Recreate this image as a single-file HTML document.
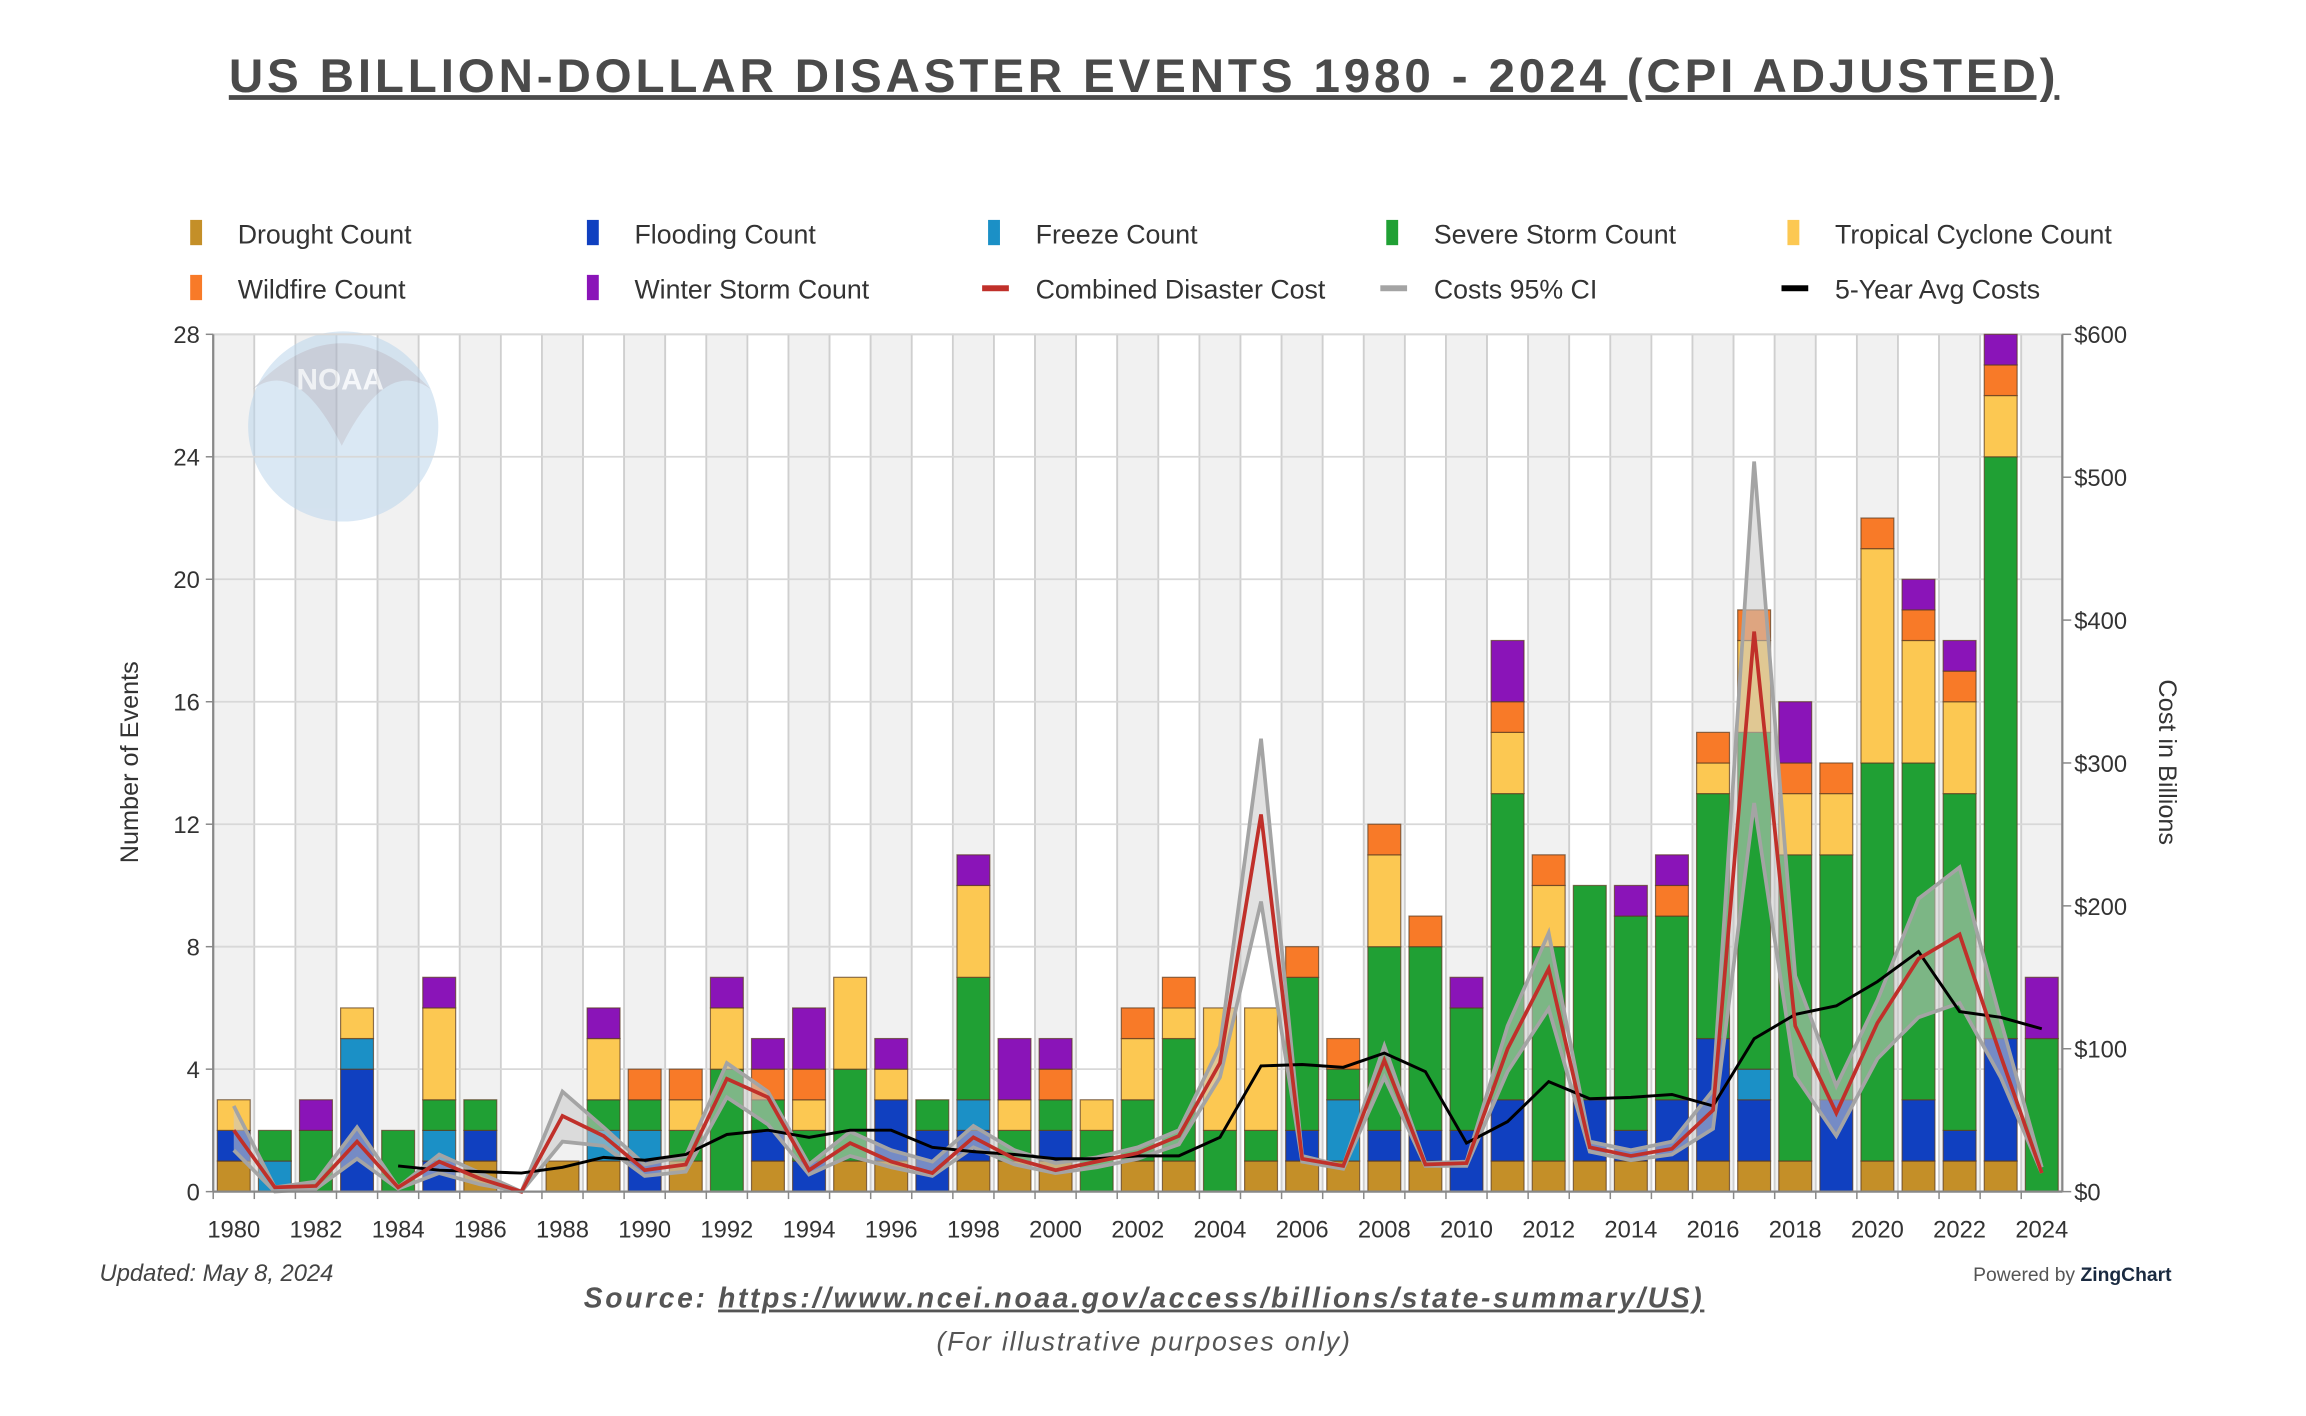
<!DOCTYPE html>
<html><head><meta charset="utf-8"><style>
html,body{margin:0;padding:0;background:#fff;}
svg{display:block;font-family:"Liberation Sans","DejaVu Sans",sans-serif;}
</style></head><body>
<svg id="chart" width="2306" height="1416" viewBox="0 0 1552 953" xmlns="http://www.w3.org/2000/svg">
<text x="770" y="62" text-anchor="middle" font-size="32" font-weight="bold" fill="#4a4a4a" letter-spacing="2.6" text-decoration="underline">US BILLION-DOLLAR DISASTER EVENTS 1980 - 2024 (CPI ADJUSTED)</text>
<g id="legend"></g>
<g id="bands"></g>
<g opacity="0.55">
<circle cx="231" cy="287" r="64" fill="#bcd6ec"/>
<path d="M170 262 Q230 200 290 262 Q260 240 230 300 Q200 240 170 262 Z" fill="#a9b3c6"/>
<text x="229" y="262" text-anchor="middle" font-size="20" font-weight="bold" fill="#eef2f7">NOAA</text>
</g>
<g id="grid"></g>
<g id="bars"></g>
<g id="lines"></g>
<g id="axes"></g>
<text transform="translate(93,513) rotate(-90)" text-anchor="middle" font-size="17" fill="#333">Number of Events</text>
<text transform="translate(1453,513) rotate(90)" text-anchor="middle" font-size="17" fill="#333">Cost in Billions</text>
<text x="67" y="862" font-size="16" font-style="italic" fill="#444">Updated: May 8, 2024</text>
<text x="1328" y="862" font-size="13" fill="#555">Powered by <tspan font-weight="bold" fill="#1a2a40">ZingChart</tspan></text>
<text x="770" y="880" text-anchor="middle" font-size="19" font-style="italic" font-weight="bold" fill="#555" letter-spacing="1.8">Source: <tspan text-decoration="underline">https://www.ncei.noaa.gov/access/billions/state-summary/US)</tspan></text>
<text x="770" y="909" text-anchor="middle" font-size="18" font-style="italic" fill="#555" letter-spacing="1.2">(For illustrative purposes only)</text>
</svg>
<script>
const years=[];for(let y=1980;y<=2024;y++)years.push(y);
const drought=[1,0,0,0,0,0,1,0,1,1,0,1,0,1,0,1,1,0,1,1,1,0,1,1,0,1,1,1,1,1,0,1,1,1,1,1,1,1,1,0,1,1,1,1,0];
const flooding=[1,0,0,4,0,1,1,0,0,0,1,0,0,1,1,0,2,2,1,0,1,0,0,0,0,0,1,0,1,1,2,2,0,2,1,2,4,2,0,3,0,2,1,4,0];
const freeze=[0,1,0,1,0,1,0,0,0,1,1,0,0,0,0,0,0,0,1,0,0,0,0,0,0,0,0,2,0,0,0,0,0,0,0,0,0,1,0,0,0,0,0,0,0];
const storm=[0,1,2,0,2,1,1,0,0,1,1,1,4,1,1,3,0,1,4,1,1,2,2,4,2,1,5,1,6,6,4,10,7,7,7,6,8,11,10,8,13,11,11,19,5];
const tropical=[1,0,0,1,0,3,0,0,0,2,0,1,2,0,1,3,1,0,3,1,0,1,2,1,4,4,0,0,3,0,0,2,2,0,0,0,1,3,2,2,7,4,3,2,0];
const wildfire=[0,0,0,0,0,0,0,0,0,0,1,1,0,1,1,0,0,0,0,0,1,0,1,1,0,0,1,1,1,1,0,1,1,0,0,1,1,1,1,1,1,1,1,1,0];
const winter=[0,0,1,0,0,1,0,0,0,1,0,0,1,1,2,0,1,0,1,2,1,0,0,0,0,0,0,0,0,0,1,2,0,0,1,1,0,0,2,0,0,1,1,1,2];
const cost=[43,3,4,35,3,21,9,0,53,39,15,19,79,66,15,34,21,13,38,23,15,21,27,39,90,264,23,18,92,19,20,100,156,31,25,30,57,392,116,55,118,163,180,95,13];
const ciUpper=[60,3,7,45,3,26,13,0,70,45,19,25,90,70,19,42,29,21,46,29,20,24,31,43,102,317,25,18,102,20,21,116,181,35,29,35,71,511,151,74,134,205,227,120,17];
const ciLower=[29,0,2,23,2,13,5,0,35,32,11,14,66,47,12,25,17,11,31,19,13,17,23,33,80,203,21,16,80,18,18,84,128,28,22,26,44,272,81,39,93,122,132,80,13];
const avgYears=[];for(let y=1984;y<=2024;y++)avgYears.push(y);
const avg5=[18,15,14,13,17,24,22,26,40,43,38,43,43,31,28,26,23,23,25,25,38,88,89,87,97,84,34,49,77,65,66,68,60,107,124,130,147,168,126,122,114];
const countTicks=[0,4,8,12,16,20,24,28];
const costTicks=[0,100,200,300,400,500,600];
const costTickLabels=["$0","$100","$200","$300","$400","$500","$600"];

const NS="http://www.w3.org/2000/svg";
const L=143.5,R=1388,T=225,B=802;
const band=(R-L)/years.length;
const xC=y=>L+(y-1980+0.5)*band;
const yN=v=>B-(v/28)*(B-T);
const yC=v=>B-(v/600)*(B-T);
function mk(tag,attrs,parent){const e=document.createElementNS(NS,tag);for(const k in attrs)e.setAttribute(k,attrs[k]);parent.appendChild(e);return e;}

const series=[
 {name:"Drought Count",data:drought,color:"#c48f28"},
 {name:"Flooding Count",data:flooding,color:"#1040c0"},
 {name:"Freeze Count",data:freeze,color:"#1b90c6"},
 {name:"Severe Storm Count",data:storm,color:"#20a034"},
 {name:"Tropical Cyclone Count",data:tropical,color:"#fcc852"},
 {name:"Wildfire Count",data:wildfire,color:"#f87a28"},
 {name:"Winter Storm Count",data:winter,color:"#8a14b8"}];

const gb=document.getElementById('bands');
years.forEach((y,i)=>{
 const r=mk('rect',{x:L+i*band,y:T,width:band,height:B-T,fill:i%2===0?'#f1f1f1':'#ffffff',stroke:'#cfcfcf','stroke-width':1.2},gb);
 
 
});
const gg=document.getElementById('grid');
countTicks.forEach(v=>{
 const l=mk('line',{x1:L,x2:R,y1:yN(v),y2:yN(v),stroke:'#d8d8d8','stroke-width':1.2},gg);
 
 
});
const gbar=document.getElementById('bars');
years.forEach((y,i)=>{
 let acc=0;
 series.forEach(s=>{
  const v=s.data[i];if(!v)return;
  const r=mk('rect',{x:xC(y)-band*0.4,y:yN(acc+v),width:band*0.8,height:yN(acc)-yN(acc+v),fill:s.color,stroke:'#5a3a20','stroke-opacity':0.7,'stroke-width':0.8},gbar);
  
  
  acc+=v;
 });
});
const gl=document.getElementById('lines');
const pts=(xs,vs)=>vs.map((v,i)=>xC(xs[i])+','+yC(v)).join(' ');
const area=mk('polygon',{points:pts(years,ciUpper)+' '+pts(years.slice().reverse(),ciLower.slice().reverse()),fill:'#c8c8c8','fill-opacity':0.55},gl);


const up=mk('polyline',{points:pts(years,ciUpper),fill:'none',stroke:'#a4a4a4','stroke-width':2.5},gl);


const lo=mk('polyline',{points:pts(years,ciLower),fill:'none',stroke:'#a4a4a4','stroke-width':2.5},gl);


const av=mk('polyline',{points:pts(avgYears,avg5),fill:'none',stroke:'#000','stroke-width':2},gl);


const cl=mk('polyline',{points:pts(years,cost),fill:'none',stroke:'#c0302a','stroke-width':2.5},gl);


const ga=document.getElementById('axes');
mk('line',{x1:L,x2:L,y1:T,y2:B,stroke:'#888','stroke-width':1.5},ga);
mk('line',{x1:R,x2:R,y1:T,y2:B,stroke:'#888','stroke-width':1.5},ga);
mk('line',{x1:L,x2:R,y1:B,y2:B,stroke:'#888','stroke-width':1.5},ga);
countTicks.forEach(v=>{
 mk('line',{x1:L-5,x2:L,y1:yN(v),y2:yN(v),stroke:'#888'},ga);
 const t=mk('text',{x:L-9,y:yN(v)+6,'text-anchor':'end','font-size':16,fill:'#333'},ga);
 t.textContent=v;
 
 
});
costTicks.forEach((v,i)=>{
 mk('line',{x1:R,x2:R+6,y1:yC(v),y2:yC(v),stroke:'#888'},ga);
 const t=mk('text',{x:R+8,y:yC(v)+6,'font-size':16,fill:'#333'},ga);
 t.textContent=costTickLabels[i];
 
 
});
years.forEach((y,i)=>{
 mk('line',{x1:L+i*band,x2:L+i*band,y1:B,y2:B+5,stroke:'#888'},ga);
 if(i%2===0){
  const t=mk('text',{x:xC(y),y:B+31,'text-anchor':'middle','font-size':16,fill:'#333'},ga);
  t.textContent=y;
  
  
 }
});
const lg=document.getElementById('legend');
const legendItems=series.map(s=>({name:s.name,color:s.color,type:'bar'})).concat([
 {name:"Combined Disaster Cost",color:"#c0302a",type:'line'},
 {name:"Costs 95% CI",color:"#a4a4a4",type:'line'},
 {name:"5-Year Avg Costs",color:"#000",type:'line'}]);
const colX=[128,395,665,933,1203];
legendItems.forEach((it,i)=>{
 const x=colX[i%5],y=i<5?157:194;
 const g=mk('g',{},lg);
 
 
 if(it.type==='bar')mk('rect',{x:x,y:y-9,width:8,height:17,fill:it.color},g);
 else mk('rect',{x:x-4,y:y-2,width:18,height:4,fill:it.color},g);
 const t=mk('text',{x:x+32,y:y+7,'font-size':18,fill:'#333'},g);
 t.textContent=it.name;
});
</script>
</body></html>
